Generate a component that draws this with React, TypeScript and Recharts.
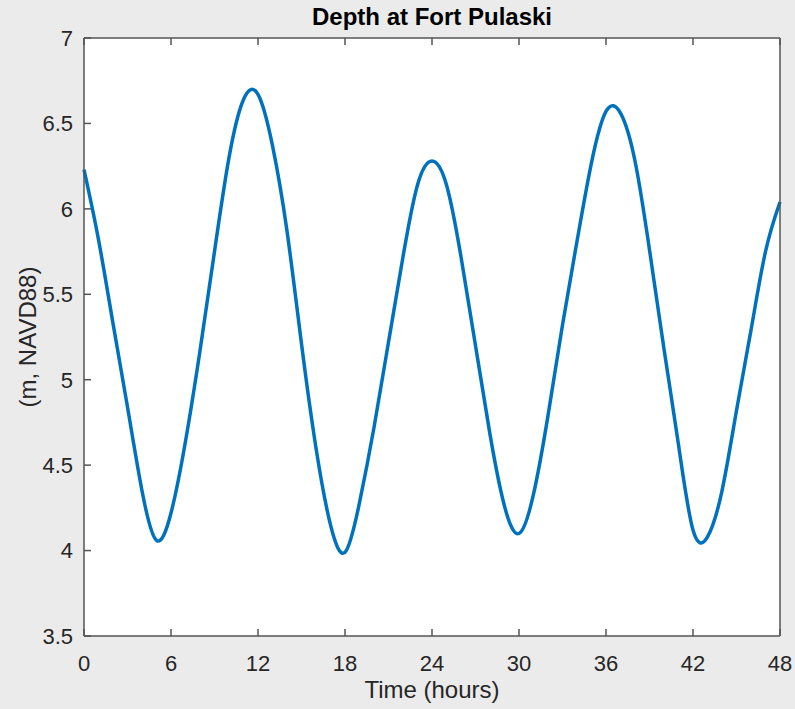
import { CartesianGrid, Line, LineChart, XAxis, YAxis } from 'recharts'

// water level, one reading per hour
const hours = [
  0, 1, 2, 3, 4, 5, 6, 7, 8, 9, 10, 11, 12, 13, 14, 15, 16, 17, 18, 19, 20, 21, 22, 23, 24, 25, 26, 27, 28,
  29, 30, 31, 32, 33, 34, 35, 36, 37, 38, 39, 40, 41, 42, 43, 44, 45, 46, 47, 48,
]
const depth = [
  6.23, 5.82, 5.33, 4.84, 4.35, 4.06, 4.22, 4.64, 5.17, 5.75, 6.3, 6.64, 6.67, 6.37, 5.87, 5.21, 4.6, 4.15,
  3.99, 4.28, 4.72, 5.22, 5.72, 6.14, 6.28, 6.14, 5.72, 5.2, 4.68, 4.26, 4.1, 4.33, 4.79, 5.32, 5.81, 6.27,
  6.57, 6.56, 6.28, 5.76, 5.18, 4.62, 4.12, 4.08, 4.35, 4.82, 5.29, 5.75, 6.04,
]
const xTicks = [0, 6, 12, 18, 24, 30, 36, 42, 48]
const yTicks = [3.5, 4, 4.5, 5, 5.5, 6, 6.5, 7]

const data = hours.map((t, i) => ({ t, d: depth[i] }))

const ink = '#262626'
const axisCol = '#555555'
const font = 'Arial, "Liberation Sans", Helvetica, sans-serif'
const TICK = 7

// matlab-ish inward ticks; x/y arrive as the point on the axis line
const BottomTick = (p: any) => (
  <g>
    <line x1={p.x} x2={p.x} y1={p.y} y2={p.y - TICK} stroke={axisCol} strokeWidth={1.5} />
    <text x={p.x} y={p.y + 19} dy="0.71em" textAnchor="middle" fill={ink} fontSize={22} fontFamily={font}>
      {p.payload.value}
    </text>
  </g>
)
const TopTick = (p: any) => (
  <line x1={p.x} x2={p.x} y1={p.y} y2={p.y + TICK} stroke={axisCol} strokeWidth={1.5} />
)
const LeftTick = (p: any) => (
  <g>
    <line x1={p.x} x2={p.x + TICK} y1={p.y} y2={p.y} stroke={axisCol} strokeWidth={1.5} />
    <text x={p.x - 11} y={p.y} dy="0.36em" textAnchor="end" fill={ink} fontSize={22} fontFamily={font}>
      {p.payload.value}
    </text>
  </g>
)
const RightTick = (p: any) => (
  <line x1={p.x} x2={p.x - TICK} y1={p.y} y2={p.y} stroke={axisCol} strokeWidth={1.5} />
)

export default function App() {
  return (
    <div
      style={{
        position: 'absolute',
        left: 0,
        top: 0,
        width: 795,
        height: 709,
        background: '#ebebeb',
        fontFamily: font,
        overflow: 'hidden',
      }}
    >
      <LineChart width={795} height={709} data={data} margin={{ top: 37, right: 14, bottom: 33, left: 24 }}>
        <CartesianGrid fill="#ffffff" horizontal={false} vertical={false} xAxisId="b" yAxisId="l" />
        <XAxis
          xAxisId="b"
          dataKey="t"
          type="number"
          domain={[0, 48]}
          ticks={xTicks}
          height={40}
          tickSize={0}
          tickMargin={0}
          tickLine={false}
          stroke={axisCol}
          strokeWidth={1.5}
          tick={BottomTick}
        />
        <XAxis
          xAxisId="t"
          dataKey="t"
          type="number"
          orientation="top"
          domain={[0, 48]}
          ticks={xTicks}
          height={1}
          tickSize={0}
          tickMargin={0}
          tickLine={false}
          tick={TopTick}
          stroke={axisCol}
          strokeWidth={1.5}
        />
        <YAxis
          yAxisId="l"
          type="number"
          domain={[3.5, 7]}
          ticks={yTicks}
          width={60}
          tickSize={0}
          tickMargin={0}
          tickLine={false}
          stroke={axisCol}
          strokeWidth={1.5}
          tick={LeftTick}
        />
        <YAxis
          yAxisId="r"
          orientation="right"
          type="number"
          domain={[3.5, 7]}
          ticks={yTicks}
          width={1}
          tickSize={0}
          tickMargin={0}
          tickLine={false}
          tick={RightTick}
          stroke={axisCol}
          strokeWidth={1.5}
        />
        <Line
          xAxisId="b"
          yAxisId="l"
          dataKey="d"
          type="natural"
          stroke="#0072bd"
          strokeWidth={3.5}
          dot={false}
          isAnimationActive={false}
        />
      </LineChart>
      <div
        style={{
          position: 'absolute',
          left: 84,
          width: 696,
          top: 3,
          textAlign: 'center',
          fontWeight: 'bold',
          fontSize: 24,
          color: '#000',
        }}
      >
        Depth at Fort Pulaski
      </div>
      <div
        style={{ position: 'absolute', left: 84, width: 696, top: 676, textAlign: 'center', fontSize: 24, color: ink }}
      >
        Time (hours)
      </div>
      <div
        style={{
          position: 'absolute',
          left: 28,
          top: 337,
          transform: 'translate(-50%, -50%) rotate(-90deg)',
          whiteSpace: 'nowrap',
          fontSize: 24,
          color: ink,
        }}
      >
        (m, NAVD88)
      </div>
    </div>
  )
}
